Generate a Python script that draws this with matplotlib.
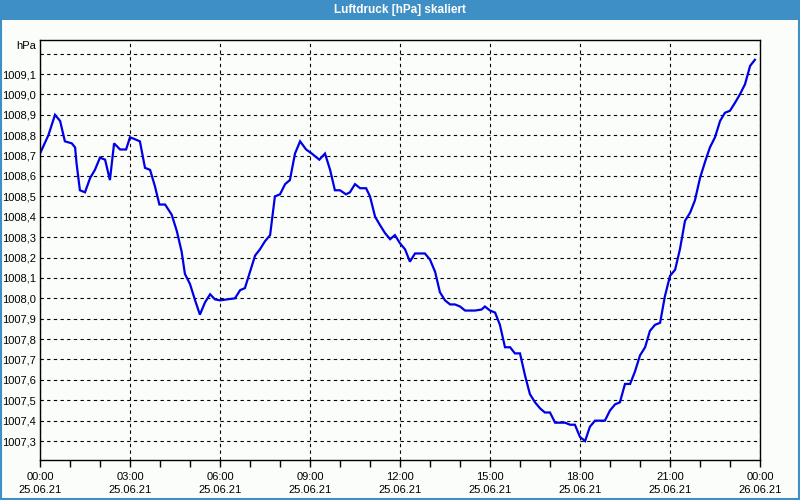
import matplotlib
matplotlib.use("Agg")
import matplotlib.pyplot as plt
from matplotlib.ticker import FixedLocator, MultipleLocator

plt.rcParams["font.family"] = ["Liberation Sans", "DejaVu Sans"]

title = "Luftdruck [hPa] skaliert"
unit_label = "hPa"

hours = [0.0, 0.28, 0.5, 0.67, 0.83, 1.06, 1.17, 1.22, 1.33, 1.5, 1.67, 1.83,
         2.0, 2.17, 2.33, 2.47, 2.67, 2.87, 3.0, 3.17, 3.33, 3.5, 3.67, 3.83,
         3.98, 4.17, 4.39, 4.56, 4.72, 4.83, 5.0, 5.17, 5.33, 5.5, 5.67, 5.83,
         6.0, 6.5, 6.67, 6.83, 7.0, 7.17, 7.33, 7.5, 7.67, 7.83, 8.0, 8.17,
         8.33, 8.5, 8.67, 8.87, 9.06, 9.31, 9.5, 9.67, 9.83, 10.0, 10.2, 10.33,
         10.5, 10.67, 10.87, 11.0, 11.17, 11.33, 11.5, 11.67, 11.83, 12.0,
         12.17, 12.33, 12.5, 12.83, 13.0, 13.17, 13.33, 13.5, 13.67, 13.83,
         14.0, 14.17, 14.5, 14.72, 14.83, 15.0, 15.17, 15.33, 15.5, 15.67,
         15.83, 16.0, 16.17, 16.33, 16.5, 16.67, 16.83, 17.0, 17.17, 17.33,
         17.5, 17.67, 17.83, 18.0, 18.17, 18.33, 18.5, 18.67, 18.83, 19.0,
         19.17, 19.33, 19.5, 19.67, 19.83, 20.0, 20.17, 20.33, 20.5, 20.67,
         20.83, 21.0, 21.17, 21.33, 21.5, 21.67, 21.83, 22.0, 22.17, 22.33,
         22.5, 22.67, 22.83, 23.0, 23.17, 23.33, 23.5, 23.67, 23.83]

pressure = [1008.71, 1008.80, 1008.90, 1008.87, 1008.77, 1008.76, 1008.74,
            1008.66, 1008.53, 1008.52, 1008.59, 1008.63, 1008.69, 1008.68,
            1008.58, 1008.76, 1008.73, 1008.73, 1008.79, 1008.78, 1008.77,
            1008.64, 1008.63, 1008.55, 1008.46, 1008.46, 1008.41, 1008.33,
            1008.23, 1008.12, 1008.07, 1007.99, 1007.92, 1007.98, 1008.02,
            1007.995, 1007.99, 1008.00, 1008.04, 1008.05, 1008.13, 1008.21,
            1008.24, 1008.28, 1008.31, 1008.50, 1008.51, 1008.56, 1008.58,
            1008.71, 1008.77, 1008.73, 1008.71, 1008.68, 1008.71, 1008.63,
            1008.53, 1008.53, 1008.51, 1008.52, 1008.56, 1008.54, 1008.54,
            1008.50, 1008.40, 1008.36, 1008.32, 1008.29, 1008.31, 1008.27,
            1008.24, 1008.18, 1008.22, 1008.22, 1008.19, 1008.13, 1008.03,
            1007.99, 1007.97, 1007.97, 1007.96, 1007.94, 1007.94, 1007.945,
            1007.96, 1007.94, 1007.93, 1007.87, 1007.76, 1007.76, 1007.73,
            1007.73, 1007.62, 1007.53, 1007.49, 1007.46, 1007.44, 1007.44,
            1007.39, 1007.39, 1007.39, 1007.38, 1007.38, 1007.32, 1007.30,
            1007.37, 1007.40, 1007.40, 1007.40, 1007.45, 1007.48, 1007.49,
            1007.58, 1007.58, 1007.64, 1007.72, 1007.76, 1007.84, 1007.87,
            1007.88, 1008.01, 1008.11, 1008.14, 1008.24, 1008.38, 1008.42,
            1008.48, 1008.59, 1008.67, 1008.74, 1008.79, 1008.87, 1008.91,
            1008.92, 1008.96, 1009.00, 1009.05, 1009.14, 1009.17]

y_ticks = [1007.3, 1007.4, 1007.5, 1007.6, 1007.7, 1007.8, 1007.9, 1008.0,
           1008.1, 1008.2, 1008.3, 1008.4, 1008.5, 1008.6, 1008.7, 1008.8,
           1008.9, 1009.0, 1009.1, 1009.2]
x_ticks = [0, 3, 6, 9, 12, 15, 18, 21, 24]
x_labels = ["00:00\n25.06.21", "03:00\n25.06.21", "06:00\n25.06.21",
            "09:00\n25.06.21", "12:00\n25.06.21", "15:00\n25.06.21",
            "18:00\n25.06.21", "21:00\n25.06.21", "00:00\n26.06.21"]

bg = "#fbfdfb"
bar_blue = "#3d8fc6"

fig = plt.figure(figsize=(8, 5), dpi=100, facecolor=bg)
ax = fig.add_axes([0.05, 0.08, 0.90, 0.84])
ax.set_facecolor(bg)

ax.plot(hours, pressure, color="#0000e6", lw=1.6, solid_joinstyle="miter")

ax.set_xlim(0, 24)
ax.set_ylim(1007.207, 1009.267)

ax.yaxis.set_major_locator(FixedLocator(y_ticks))
ylabels = [("%.1f" % v).replace(".", ",") for v in y_ticks]
ylabels[-1] = ""
ax.set_yticklabels(ylabels)
ax.tick_params(axis="y", length=0, pad=3, labelsize=8, labelcolor="#000000")

ax.set_xticks(x_ticks)
ax.set_xticklabels(x_labels, fontsize=8, linespacing=1.35)
ax.xaxis.set_minor_locator(MultipleLocator(1))
ax.tick_params(axis="x", which="major", length=5, width=1, direction="out",
               pad=4, color="black")
ax.tick_params(axis="x", which="minor", length=5, width=1, direction="out",
               color="black")

ax.grid(True, which="major", color="black", linestyle=(0, (3, 3)), lw=0.8)
for s in ax.spines.values():
    s.set_color("black")
    s.set_linewidth(1.0)

ax.text(-0.005, 1009.238, unit_label, transform=ax.get_yaxis_transform(),
        ha="right", va="center", fontsize=8)

# title bar and frame
fig.patches.append(plt.Rectangle((0, 0.96), 1, 0.04, transform=fig.transFigure,
                                 facecolor=bar_blue, edgecolor="none", zorder=0))
fig.text(0.5, 0.98, title, ha="center", va="center", color="white",
         fontsize=8.5, fontweight="bold")
fig.add_artist(plt.Line2D([0.0012, 0.0012], [0, 0.96], transform=fig.transFigure,
                          color=bar_blue, lw=1.5))
fig.add_artist(plt.Line2D([0.9988, 0.9988], [0, 0.96], transform=fig.transFigure,
                          color=bar_blue, lw=1.5))
fig.add_artist(plt.Line2D([0, 1], [0.002, 0.002], transform=fig.transFigure,
                          color=bar_blue, lw=1.5))

fig.savefig("out.png", dpi=100, facecolor=bg)
